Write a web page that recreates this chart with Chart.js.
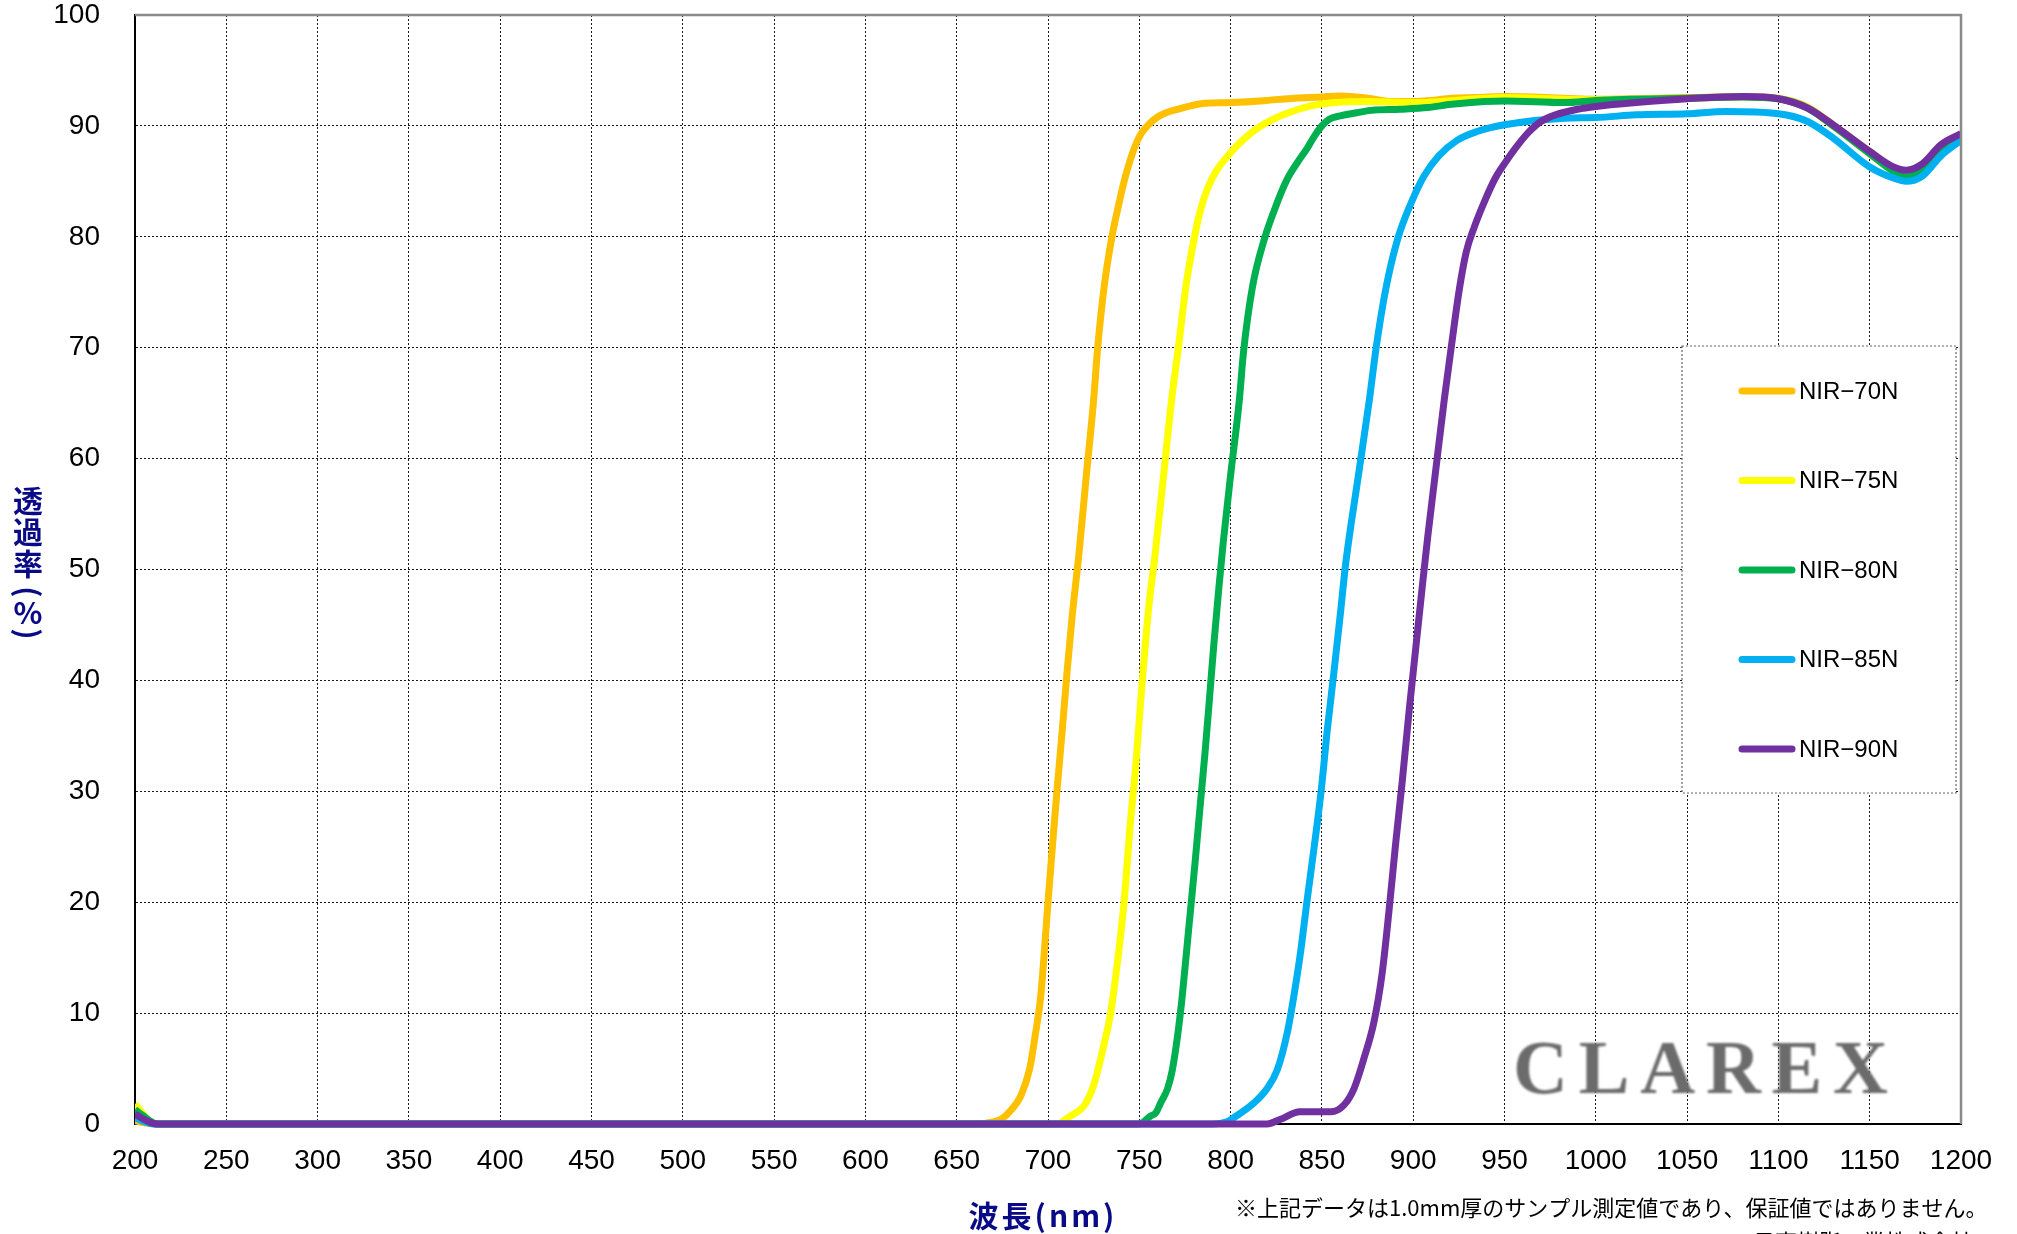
<!DOCTYPE html>
<html>
<head>
<meta charset="utf-8">
<script src="https://cdn.jsdelivr.net/npm/chart.js@4"></script>
<style>
  html, body { margin: 0; padding: 0; background: #fff; }
  #wrap { width: 2017px; height: 1234px; position: relative; }
</style>
</head>
<body>
<div id="wrap"><canvas id="spectrum-chart"></canvas></div>
<script>
// series names and colours
const seriesNames = ['NIR−70N', 'NIR−75N', 'NIR−80N', 'NIR−85N', 'NIR−90N'];
const seriesColors = ['#FFC000', '#FFFF00', '#00B050', '#00B0F0', '#7030A0'];

// wavelength (nm) / transmittance (%)
const wl70 = [200, 205, 212, 660, 670, 675, 680, 685, 690, 693, 696, 700, 702.5, 705, 708, 710.5, 713.3, 717, 721, 725, 727.2, 731, 735, 739, 742, 745, 748, 751, 755, 760, 765, 771, 778, 784, 800, 820, 835, 850, 860, 875, 888, 900, 910, 921, 935, 950, 982, 1000, 1050, 1080, 1100, 1116, 1130, 1150, 1163, 1170, 1179, 1189, 1200];
const t70 = [0.3, 0.1, 0, 0, 0.2, 0.5, 1.3, 2.5, 5.0, 8.0, 11.5, 20, 25.2, 30.2, 35.9, 40.9, 45.9, 51.5, 58.5, 65.3, 70, 75.8, 80, 83.1, 85.2, 86.9, 88.3, 89.3, 90.1, 90.8, 91.2, 91.5, 91.8, 92.0, 92.1, 92.3, 92.5, 92.6, 92.7, 92.5, 92.2, 92.2, 92.3, 92.5, 92.55, 92.65, 92.5, 92.4, 92.55, 92.65, 92.5, 91.7, 90.1, 87.7, 86.2, 85.6, 86.2, 87.9, 89.3];

const wl75 = [200, 203, 207, 212, 705, 712, 720, 725, 730.7, 734.3, 739, 741.6, 745.3, 748, 751.6, 755.3, 758.4, 763, 767.7, 771.4, 775.6, 780, 783, 787, 792, 797.5, 804, 810, 815.7, 822, 829.5, 844, 857, 875, 900, 950, 1000, 1050, 1080, 1100, 1116, 1130, 1150, 1163, 1170, 1179, 1189, 1200];
const t75 = [1.8, 1.2, 0.4, 0, 0, 0.7, 1.7, 3.5, 7.2, 10, 15.9, 19.9, 27.5, 32.2, 39.9, 46.8, 51.0, 58, 65.3, 70, 75.6, 79.8, 82.1, 84.2, 85.9, 87.1, 88.3, 89.2, 89.9, 90.5, 91.05, 91.8, 92.1, 92.2, 92.1, 92.55, 92.35, 92.5, 92.6, 92.45, 91.6, 90.0, 87.5, 85.9, 85.4, 86.0, 87.7, 89.1];

const wl80 = [200, 204, 208, 212, 750, 756, 759, 762, 765.5, 768, 771, 773.5, 777, 780.5, 783.5, 786, 788.5, 791, 793.6, 796, 800, 804.8, 807, 812, 818.5, 825.8, 831, 837, 842, 846, 850, 854, 860, 866, 877, 893, 908, 921, 939, 950, 983, 1000, 1050, 1080, 1100, 1116, 1130, 1150, 1163, 1170, 1179, 1189, 1200];
const t80 = [1.3, 0.8, 0.3, 0, 0, 0.7, 1.0, 2.0, 3.2, 4.8, 8.0, 11.5, 17.5, 23.5, 29, 33.5, 38.5, 43.6, 48.4, 52.5, 58.5, 65.3, 69.5, 75.5, 79.8, 83.2, 85.2, 86.8, 88.0, 89.1, 90.0, 90.6, 90.9, 91.1, 91.4, 91.5, 91.65, 91.95, 92.2, 92.25, 92.1, 92.3, 92.5, 92.6, 92.45, 91.6, 90.0, 87.5, 85.9, 85.4, 86.0, 87.7, 89.1];

const wl85 = [200, 205, 210, 790, 798, 802, 812.8, 820, 825.6, 831, 834.7, 838.4, 842, 845.7, 849.5, 853, 856.7, 860.3, 863, 870, 876, 879.7, 885, 891.5, 899, 906, 914, 924, 935, 950, 983, 1000, 1022, 1050, 1071, 1100, 1116, 1130, 1150, 1163, 1170, 1179, 1189, 1200];
const t85 = [0.6, 0.2, 0, 0, 0.2, 0.6, 1.9, 3.2, 4.9, 8.2, 11.6, 15.6, 20.3, 24.9, 29.9, 35.6, 40.9, 46.3, 50.5, 58.5, 65.3, 70, 75.3, 79.8, 83.1, 85.5, 87.3, 88.7, 89.5, 90.1, 90.7, 90.75, 91, 91.1, 91.3, 91.1, 90.4, 88.9, 86.3, 85.3, 85.0, 85.5, 87.3, 88.7];

const wl90 = [200, 204, 209, 213, 820, 827, 838, 855, 862, 867.6, 873, 878.5, 883, 886.8, 890.4, 894, 897.8, 901.4, 905, 908, 912, 917, 920.8, 925.3, 929, 933.5, 939.6, 945, 950, 956, 963, 970, 978, 990, 1000, 1022, 1050, 1081, 1100, 1116, 1130, 1150, 1163, 1170, 1179, 1189, 1200];
const t90 = [0.9, 0.5, 0.1, 0, 0, 0.4, 1.1, 1.1, 1.7, 3.2, 5.9, 9.2, 13.6, 19.3, 25.3, 30.9, 37.3, 42.9, 48.5, 53, 58.5, 65.3, 70, 75.3, 78.6, 80.9, 83.4, 85.3, 86.6, 88.0, 89.4, 90.4, 91.0, 91.5, 91.75, 92.1, 92.45, 92.65, 92.45, 91.6, 90.1, 87.7, 86.3, 86.0, 86.6, 88.3, 89.3];

const seriesX = [wl70, wl75, wl80, wl85, wl90];
const seriesY = [t70, t75, t80, t85, t90];

const xTitle = '波長(nm)';
const yTitle = ['透', '過', '率', '(', '%', ')'];
const noteLines = ['※上記データは1.0mm厚のサンプル測定値であり、保証値ではありません。', '日東樹脂工業株式会社'];
const watermark = 'CLAREX';

const navy = '#0a0a86';
const tickFont = { family: '"Liberation Sans", Arial, sans-serif', size: 28 };

const datasets = seriesNames.map(function(name, i) {
  return {
    label: name,
    data: seriesX[i].map(function(x, j) { return { x: x, y: seriesY[i][j] }; }),
    borderColor: seriesColors[i],
    backgroundColor: seriesColors[i],
    order: seriesNames.length - i,
    clip: { left: 0, right: 0, top: 10, bottom: 10 }
  };
});

// watermark under the lines
const watermarkPlugin = {
  id: 'watermark',
  beforeDatasetsDraw(chart) {
    const c = chart.ctx;
    c.save();
    c.font = 'bold 76px "Liberation Serif", "Times New Roman", serif';
    c.fillStyle = '#6b6b6b';
    c.textBaseline = 'alphabetic';
    c.filter = 'blur(0.8px)';
    const w = c.measureText(watermark).width;
    const gap = (375 - w) / (watermark.length - 1);
    let x = 1513;
    for (const ch of watermark) {
      c.fillText(ch, x, 1093);
      x += c.measureText(ch).width + gap;
    }
    c.restore();
  }
};

// top / right frame, legend box, titles, notes
const decorPlugin = {
  id: 'decor',
  afterDraw(chart) {
    const c = chart.ctx;
    const a = chart.chartArea;
    c.save();

    c.strokeStyle = '#8a8a8a';
    c.lineWidth = 2.5;
    c.beginPath();
    c.moveTo(a.left, a.top);
    c.lineTo(a.right, a.top);
    c.lineTo(a.right, a.bottom);
    c.stroke();

    // legend
    c.fillStyle = '#fff';
    c.fillRect(1682, 346, 274, 447);
    c.setLineDash([2, 2]);
    c.strokeStyle = '#666';
    c.lineWidth = 1.2;
    c.strokeRect(1682, 346, 274, 447);
    c.setLineDash([]);
    c.font = '24px "Liberation Sans", Arial, sans-serif';
    c.textBaseline = 'middle';
    c.textAlign = 'left';
    chart.data.datasets.forEach(function(ds, i) {
      const y = 391 + i * 89.5;
      c.strokeStyle = ds.borderColor;
      c.lineWidth = 7;
      c.lineCap = 'round';
      c.beginPath();
      c.moveTo(1742, y);
      c.lineTo(1792, y);
      c.stroke();
      c.fillStyle = '#000';
      c.fillText(ds.label, 1799, y + 1);
    });

    // y title, stacked upright
    c.fillStyle = navy;
    c.font = 'bold 30px "Noto Sans CJK JP", sans-serif';
    c.textAlign = 'center';
    c.textBaseline = 'middle';
    const yPos = [501, 532, 564, 592, 613, 634];
    yTitle.forEach(function(ch, i) {
      if (ch === '(' || ch === ')') {
        c.save();
        c.translate(28, yPos[i]);
        c.rotate(Math.PI / 2);
        c.fillText(ch, 0, 0);
        c.restore();
      } else {
        c.fillText(ch, 28, yPos[i]);
      }
    });

    // x title
    c.letterSpacing = '3px';
    c.fillText(xTitle, 1043, 1216);
    c.letterSpacing = '0px';

    // notes
    c.fillStyle = '#000';
    c.textAlign = 'left';
    c.font = '22px "Noto Sans CJK JP", sans-serif';
    c.fillText(noteLines[0], 1235, 1208);
    c.fillText(noteLines[1], 1753, 1242);

    c.restore();
  }
};

new Chart(document.getElementById('spectrum-chart'), {
  type: 'line',
  data: { datasets: datasets },
  options: {
    responsive: true,
    maintainAspectRatio: false,
    animation: false,
    layout: { padding: { top: 15, right: 56, left: 0, bottom: 0 } },
    plugins: { legend: { display: false }, tooltip: { enabled: false } },
    elements: {
      point: { radius: 0 },
      line: { borderWidth: 7, cubicInterpolationMode: 'monotone', borderCapStyle: 'butt', borderJoinStyle: 'round' }
    },
    scales: {
      x: {
        type: 'linear', min: 200, max: 1200,
        ticks: { stepSize: 50, padding: 20, color: '#000', font: tickFont, maxRotation: 0, autoSkip: false,
          callback: function(v) { return String(v); } },
        grid: { color: '#1a1a1a', lineWidth: 1, drawTicks: false },
        border: { color: '#000', width: 2, dash: [2, 2] },
        afterFit(scale) { scale.height = 110; scale.paddingLeft = 0; scale.paddingRight = 0; }
      },
      y: {
        min: 0, max: 100,
        ticks: { stepSize: 10, padding: 35, color: '#000', font: tickFont },
        grid: { color: '#1a1a1a', lineWidth: 1, drawTicks: false },
        border: { color: '#000', width: 2, dash: [2, 2] },
        afterFit(scale) { scale.width = 135; scale.paddingTop = 0; scale.paddingBottom = 0; }
      }
    }
  },
  plugins: [watermarkPlugin, decorPlugin]
});
</script>
</body>
</html>
